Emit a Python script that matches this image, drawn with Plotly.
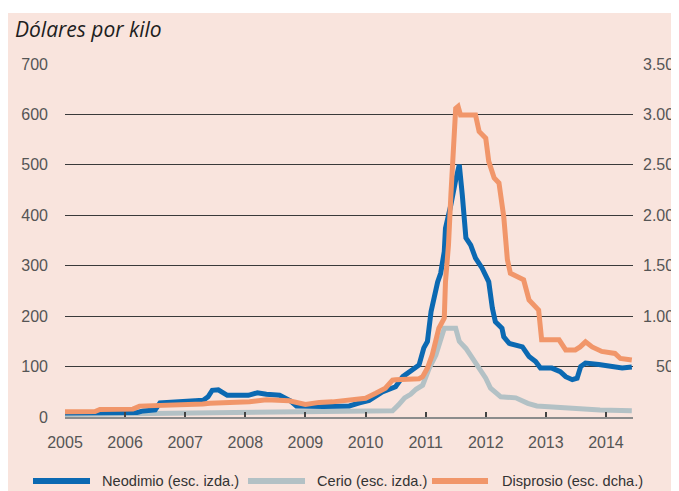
import plotly.graph_objects as go

# --- data (decimal years, $/kg) ---
NEO_X = [2005.00, 2006.20, 2006.30, 2006.50, 2006.58, 2006.80, 2007.00, 2007.30, 2007.38, 2007.45,
         2007.55, 2007.70, 2008.05, 2008.20, 2008.35, 2008.57, 2008.75, 2008.85, 2009.30, 2009.73,
         2009.90, 2010.06, 2010.28, 2010.50, 2010.62, 2010.73, 2010.89, 2010.97, 2011.03, 2011.09,
         2011.14, 2011.20, 2011.25, 2011.31, 2011.33, 2011.38, 2011.42, 2011.50, 2011.56, 2011.61,
         2011.67, 2011.75, 2011.83, 2011.94, 2012.05, 2012.11, 2012.16, 2012.27, 2012.30, 2012.39,
         2012.50, 2012.61, 2012.72, 2012.83, 2012.91, 2013.10, 2013.24, 2013.33, 2013.44, 2013.52,
         2013.58, 2013.66, 2013.88, 2014.10, 2014.27, 2014.43]
NEO_Y = [8, 9, 12, 14, 28, 30, 32, 33, 40, 53,
         54, 43, 43, 48, 45, 43, 32, 22, 21, 22,
         28, 33, 50, 60, 80, 90, 103, 137, 150, 209,
         242, 268, 285, 328, 374, 407, 421, 470, 500, 440,
         355, 341, 315, 295, 268, 216, 189, 176, 159, 146,
         143, 139, 120, 110, 97, 97, 90, 80, 74, 77,
         100, 107, 104, 100, 97, 99]

CER_X = [2005.00, 2006.00, 2007.00, 2007.50, 2008.00, 2009.00, 2010.00, 2010.45, 2010.55, 2010.65,
         2010.75, 2010.84, 2010.95, 2011.06, 2011.17, 2011.25, 2011.31, 2011.50, 2011.56, 2011.67,
         2011.78, 2011.89, 2012.00, 2012.08, 2012.19, 2012.25, 2012.50, 2012.70, 2012.85, 2013.10,
         2013.33, 2013.55, 2013.90, 2014.43]
CER_Y = [5, 6, 8, 9, 10, 11, 12, 12.5, 24, 38,
         45, 55, 63, 97, 123, 156, 176, 176, 150, 136,
         116, 97, 77, 57, 45, 40, 38, 27, 22, 20,
         17, 15, 14, 12.5]

DIS_X = [2005.00, 2005.50, 2005.58, 2006.13, 2006.24, 2006.55, 2006.62, 2007.29, 2007.41, 2007.95,
         2008.07, 2008.35, 2008.73, 2009.00, 2009.23, 2009.45, 2009.90, 2010.00, 2010.17, 2010.33,
         2010.45, 2010.50, 2010.89, 2010.95, 2011.03, 2011.11, 2011.22, 2011.31, 2011.33, 2011.38,
         2011.42, 2011.46, 2011.50, 2011.54, 2011.58, 2011.83, 2011.89, 2012.00, 2012.05, 2012.14,
         2012.22, 2012.30, 2012.36, 2012.41, 2012.55, 2012.63, 2012.72, 2012.83, 2012.88, 2012.93,
         2013.22, 2013.33, 2013.49, 2013.57, 2013.66, 2013.77, 2013.93, 2014.15, 2014.24, 2014.43]
DIS_Y = [53, 55, 75, 78, 108, 112, 125, 128, 137, 140,
         152, 170, 160, 125, 145, 150, 170, 185, 235, 285,
         365, 370, 380, 400, 485, 615, 880, 980, 1340, 1705,
         2200, 2700, 3060, 3080, 2995, 2995, 2830, 2765, 2535, 2370,
         2320, 1985, 1560, 1425, 1390, 1360, 1160, 1095, 1060, 765,
         765, 665, 665, 695, 745, 695, 650, 630, 580, 565]

YEARS = list(range(2005, 2015))
LEFT_TICKS = [0, 100, 200, 300, 400, 500, 600, 700]
RIGHT_TICKS = [0, 500, 1000, 1500, 2000, 2500, 3000, 3500]
RIGHT_LABELS = ["0", "500", "1.000", "1.500", "2.000", "2.500", "3.000", "3.500"]

NAMES = ["Neodimio (esc. izda.)", "Cerio (esc. izda.)", "Disprosio (esc. dcha.)"]
COLORS = ["#0b69b2", "#b3c1c5", "#f1966a"]

FONT = "Liberation Sans, Arial, sans-serif"
PINK = "#f9e4dd"

# the page adds an 8px body margin, so the figure is shrunk by that much
OFF = 8
FW, FH = 679 - OFF, 491 - OFF
# plot area in page pixels: x 65..633, y 64..417
L, R, T, B = 65 - OFF, 633 - OFF, 64 - OFF, 417 - OFF
W, H = R - L, B - T


def px_x(x):
    return (x - OFF - L) / W


def px_y(y):
    return (B - (y - OFF)) / H


fig = go.Figure()
fig.add_trace(go.Scatter(x=CER_X, y=CER_Y, name=NAMES[1], mode="lines",
                         line=dict(color=COLORS[1], width=5), yaxis="y"))
fig.add_trace(go.Scatter(x=NEO_X, y=NEO_Y, name=NAMES[0], mode="lines",
                         line=dict(color=COLORS[0], width=5), yaxis="y"))
fig.add_trace(go.Scatter(x=DIS_X, y=DIS_Y, name=NAMES[2], mode="lines",
                         line=dict(color=COLORS[2], width=5), yaxis="y2"))

shapes = [dict(type="rect", xref="paper", yref="paper", layer="below",
               x0=px_x(0), x1=px_x(700), y0=px_y(510), y1=px_y(13),
               fillcolor=PINK, line=dict(width=0))]

annotations = [dict(text="<i>Dólares por kilo</i>", xref="paper", yref="paper",
                    x=px_x(13), y=px_y(29), xanchor="left", yanchor="middle",
                    showarrow=False, font=dict(family="Open Sans, sans-serif", size=21, color="#1e1e1e"))]

for v, lab in zip(RIGHT_TICKS, RIGHT_LABELS):
    annotations.append(dict(text=lab, xref="paper", yref="y2", x=px_x(685), y=v,
                            xanchor="right", yanchor="middle", showarrow=False,
                            font=dict(family=FONT, size=16, color="#555")))

# manual legend with long line samples
legend_items = [(33, 90, 100), (248, 305, 315), (432, 488, 500)]
for (x0, x1, tx), name, col in zip(legend_items, NAMES, COLORS):
    shapes.append(dict(type="line", xref="paper", yref="paper",
                       x0=px_x(x0), x1=px_x(x1), y0=px_y(481), y1=px_y(481),
                       line=dict(color=col, width=6)))
    annotations.append(dict(text=name, xref="paper", yref="paper", x=px_x(tx), y=px_y(481),
                            xanchor="left", yanchor="middle", showarrow=False,
                            font=dict(family=FONT, size=14.6, color="#333")))

fig.update_layout(
    width=FW, height=FH,
    margin=dict(l=L, r=FW - R, t=T, b=FH - B),
    paper_bgcolor="white",
    plot_bgcolor="rgba(0,0,0,0)",
    showlegend=False,
    font=dict(family=FONT, size=16, color="#555"),
    xaxis=dict(range=[2005, 2014.45], tickvals=YEARS, ticks="inside", ticklen=5,
               tickcolor="#444", tickwidth=1.5, showline=True, linecolor="#8c8c8c",
               linewidth=2, showgrid=False, zeroline=False, ticklabelstandoff=10),
    yaxis=dict(range=[0, 700], tickvals=LEFT_TICKS, showgrid=True, gridcolor="#3a3a3a",
               gridwidth=1, zeroline=False, ticks="", ticklabelstandoff=16),
    yaxis2=dict(range=[0, 3500], overlaying="y", side="right", showgrid=False,
                zeroline=False, showticklabels=False, ticks=""),
    shapes=shapes,
    annotations=annotations,
)

fig.write_html("out.html")
